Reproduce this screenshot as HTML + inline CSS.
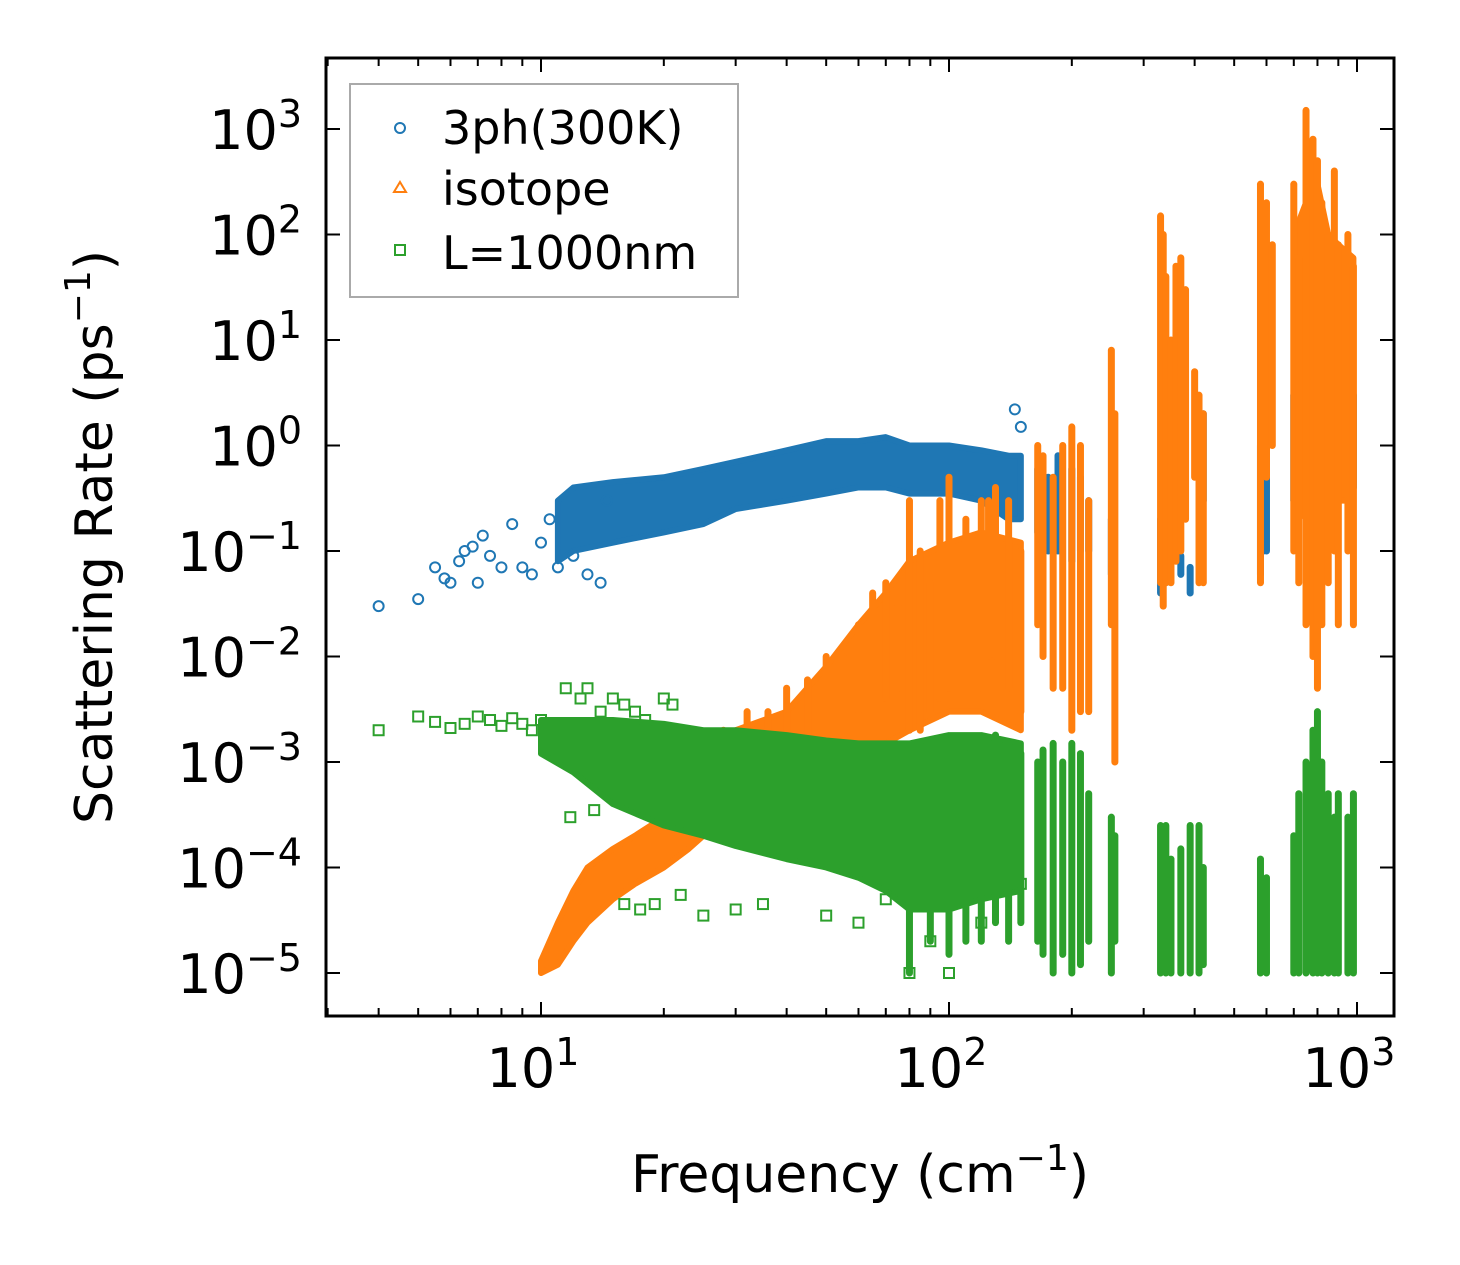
<!DOCTYPE html>
<html><head><meta charset="utf-8"><style>
body{margin:0;background:#fff}
svg{display:block;font-family:"DejaVu Sans","Liberation Sans",sans-serif}
</style></head><body>
<svg id="chart" width="1460" height="1265" viewBox="0 0 1460 1265" xmlns="http://www.w3.org/2000/svg">
<g id="marks"></g>
<g id="axes"></g>
<text x="860" y="1192" font-size="52" text-anchor="middle">Frequency (cm<tspan dy="-22" font-size="36">−1</tspan><tspan dy="22">)</tspan></text>
<text transform="translate(112,537) rotate(-90)" font-size="52" text-anchor="middle">Scattering Rate (ps<tspan dy="-22" font-size="36">−1</tspan><tspan dy="22">)</tspan></text>
<g>
<rect x="350" y="84" width="388" height="213" fill="#fff" stroke="#aaa" stroke-width="2"/>
<g><circle cx="400" cy="128" r="5" fill="none" stroke="#1f77b4" stroke-width="2"/><text x="442" y="144" font-size="46">3ph(300K)</text></g>
<g><path d="M400,182 L406,192 L394,192 Z" fill="none" stroke="#ff7f0e" stroke-width="2"/><text x="442" y="205" font-size="46">isotope</text></g>
<g><rect x="395" y="245" width="10" height="10" fill="none" stroke="#2ca02c" stroke-width="2"/><text x="442" y="269" font-size="46">L=1000nm</text></g>
</g>
</svg>
<script>
// ---- data ----
const blueSparseF=[4,5,5.5,5.8,6,6.3,6.5,6.8,7,7.2,7.5,8,8.5,9,9.5,10,10.5,11,12,13,14,14.5,145,150];
const blueSparseY=[0.03,0.035,0.07,0.055,0.05,0.08,0.1,0.11,0.05,0.14,0.09,0.07,0.18,0.07,0.06,0.12,0.2,0.07,0.09,0.06,0.05,0.3,2.2,1.5];
const blueBandF=[11,12,15,20,25,30,40,50,60,70,80,100,120,140,150];
const blueBandLo=[0.08,0.1,0.12,0.15,0.18,0.25,0.3,0.35,0.4,0.4,0.35,0.35,0.3,0.2,0.2];
const blueBandHi=[0.3,0.4,0.45,0.5,0.6,0.7,0.9,1.1,1.1,1.2,1.0,1.0,0.9,0.8,0.8];
const blueBand2F=[700,800,900,980];
const blueBand2Lo=[0.4,0.4,0.4,0.4];
const blueBand2Hi=[2,3,2,3];
const blueStripeF=[165,175,185,200,210,220,250,330,335,340,370,390,420,580,590,600,700,750,800,850,900,950,980];
const blueStripeLo=[0.15,0.1,0.1,0.08,0.1,0.1,0.06,0.04,0.05,0.05,0.06,0.04,0.3,0.06,0.1,0.1,0.3,0.4,0.3,0.4,0.4,0.4,0.4];
const blueStripeHi=[0.6,0.5,0.8,0.6,0.5,0.3,0.2,0.2,0.25,0.2,0.09,0.07,2,1,1.5,2,3,3,3,3,2,3,3];

const orBandF=[10,11,12,13,15,17,20,23,25];
const orBandLo=[1e-5,1.2e-5,2e-5,3e-5,5e-5,7e-5,1e-4,1.5e-4,2e-4];
const orBandHi=[1.3e-5,3e-5,6e-5,1e-4,1.5e-4,2e-4,3e-4,4e-4,5e-4];
const orBand2F=[25,30,40,50,60,70,80,100,120,150];
const orBand2Lo=[2e-4,3e-4,4e-4,6e-4,1e-3,1.5e-3,2e-3,3e-3,3e-3,2e-3];
const orBand2Hi=[1e-3,2e-3,3e-3,8e-3,0.02,0.04,0.08,0.12,0.15,0.12];
const orBand3F=[700,750,800,850,900,980];
const orBand3Lo=[0.3,0.2,0.1,0.2,0.3,0.3];
const orBand3Hi=[100,200,300,100,80,60];
const orStripeF=[28,32,36,40,45,50,55,60,65,70,75,80,85,90,95,100,110,120,125,130,140,150,165,170,180,190,200,210,220,250,255,330,335,340,350,360,370,380,400,410,420,580,600,620,700,720,750,780,800,820,850,880,900,950,980];
const orStripeLo=[5e-4,6e-4,8e-4,1e-3,1e-3,1.5e-3,2e-3,3e-3,3e-3,4e-3,5e-3,2e-3,2e-3,3e-3,4e-3,5e-3,8e-3,5e-3,1e-2,1e-2,5e-3,3e-3,2e-2,1e-2,5e-3,5e-3,2e-3,3e-3,3e-3,2e-2,1e-3,0.05,0.03,0.05,0.05,0.08,0.1,0.2,0.5,0.05,0.05,0.05,0.5,1,0.1,0.05,0.02,0.01,0.005,0.02,0.05,0.1,0.02,0.1,0.02];
const orStripeHi=[2e-3,3e-3,3e-3,5e-3,6e-3,0.01,0.01,0.02,0.04,0.05,0.03,0.3,0.1,0.05,0.3,0.5,0.2,0.3,0.3,0.4,0.3,0.1,1,0.8,0.5,1,1.5,1,0.3,8,2,150,100,40,10,50,60,30,5,3,2,300,200,80,300,60,1500,800,500,200,100,400,80,100,50];

const grSparseF=[4,5,5.5,6,6.5,7,7.5,8,8.5,9,9.5,10,11.5,12.5,13,14,15,16,17,18,20,21,19,17.5,16,13.5,11.8,22,25,30,35,50,60,70,80,90,100,120,150];
const grSparseY=[2e-3,2.7e-3,2.4e-3,2.1e-3,2.3e-3,2.7e-3,2.5e-3,2.2e-3,2.6e-3,2.3e-3,2e-3,2.5e-3,5e-3,4e-3,5e-3,3e-3,4e-3,3.5e-3,3e-3,2.5e-3,4e-3,3.5e-3,4.5e-5,4e-5,4.5e-5,3.5e-4,3e-4,5.5e-5,3.5e-5,4e-5,4.5e-5,3.5e-5,3e-5,5e-5,1e-5,2e-5,1e-5,3e-5,7e-5];
const grBandF=[10,12,15,20,25,30,40,50,60,70,80,100,120,150];
const grBandLo=[1.2e-3,8e-4,4e-4,2.5e-4,2e-4,1.6e-4,1.2e-4,1e-4,8e-5,6e-5,4e-5,4e-5,5e-5,6e-5];
const grBandHi=[2.5e-3,2.5e-3,2.5e-3,2.3e-3,2e-3,2e-3,1.8e-3,1.6e-3,1.5e-3,1.5e-3,1.5e-3,1.8e-3,1.8e-3,1.5e-3];
const grStripeF=[80,90,100,110,120,130,140,150,165,170,180,190,200,210,220,250,255,330,340,350,370,390,410,420,580,600,700,720,750,780,800,820,850,880,900,950,980];
const grStripeLo=[1e-5,2e-5,1.5e-5,2e-5,2e-5,3e-5,2e-5,3e-5,2e-5,1.5e-5,1e-5,1.5e-5,1e-5,1.2e-5,2e-5,1e-5,2e-5,1e-5,1e-5,1e-5,1e-5,1e-5,1e-5,1.2e-5,1e-5,1e-5,1e-5,1e-5,1e-5,1e-5,1e-5,1e-5,1e-5,1e-5,1e-5,1e-5,1e-5];
const grStripeHi=[1e-3,1.5e-3,1.5e-3,1.2e-3,1.5e-3,1.8e-3,1.5e-3,1.2e-3,1e-3,1.3e-3,1.5e-3,1e-3,1.5e-3,1.2e-3,5e-4,3e-4,2e-4,2.5e-4,2.5e-4,1.2e-4,1.5e-4,2.5e-4,2.5e-4,1e-4,1.2e-4,8e-5,2e-4,5e-4,1e-3,2e-3,3e-3,1e-3,5e-4,3e-4,5e-4,3e-4,5e-4];

const xTickVals=[10,100,1000];
const xTickExp=["1","2","3"];
const yTickExp=[3,2,1,0,-1,-2,-3,-4,-5];

// ---- axes functions ----
const X0=326,X1=1394,Y0=58,Y1=1016;
const xs=v=>541+408*(Math.log10(v)-1);
const ys=v=>973-105.5*(Math.log10(v)+5);
const NS="http://www.w3.org/2000/svg";
const marks=document.getElementById('marks'),axes=document.getElementById('axes');
function mk(t,a,p){const e=document.createElementNS(NS,t);for(const k in a)e.setAttribute(k,a[k]);(p||marks).appendChild(e);return e;}
const C={b:'#1f77b4',o:'#ff7f0e',g:'#2ca02c'};

function band(F,L,H,col,name){
  let d='M'+F.map((f,i)=>xs(f)+','+ys(H[i])).join(' L')+' L'+F.map((f,i)=>xs(f)+','+ys(L[i])).reverse().join(' L')+'Z';
  const e=mk('path',{d:d,fill:col,stroke:col,'stroke-width':6,'stroke-linejoin':'round'});
  
  
}
function stripes(F,L,H,col,name){
  F.forEach((f,i)=>{
    const e=mk('line',{x1:xs(f),x2:xs(f),y1:ys(L[i]),y2:ys(H[i]),stroke:col,'stroke-width':7,'stroke-linecap':'round'});
    
    
  });
}
function circles(F,Y,col,name){F.forEach((f,i)=>{const e=mk('circle',{cx:xs(f),cy:ys(Y[i]),r:5,fill:'none',stroke:col,'stroke-width':2});
  
  });}
function squares(F,Y,col,name){F.forEach((f,i)=>{const e=mk('rect',{x:xs(f)-5,y:ys(Y[i])-5,width:10,height:10,fill:'none',stroke:col,'stroke-width':2});
  
  });}

band(blueBandF,blueBandLo,blueBandHi,C.b,'3ph-band');
band(blueBand2F,blueBand2Lo,blueBand2Hi,C.b,'3ph-band-high');
stripes(blueStripeF,blueStripeLo,blueStripeHi,C.b,'3ph-stripe');
circles(blueSparseF,blueSparseY,C.b,'3ph-point');
band(orBandF,orBandLo,orBandHi,C.o,'isotope-band');
band(orBand2F,orBand2Lo,orBand2Hi,C.o,'isotope-band-mid');
band(orBand3F,orBand3Lo,orBand3Hi,C.o,'isotope-band-high');
stripes(orStripeF,orStripeLo,orStripeHi,C.o,'isotope-stripe');
band(grBandF,grBandLo,grBandHi,C.g,'boundary-band');
stripes(grStripeF,grStripeLo,grStripeHi,C.g,'boundary-stripe');
squares(grSparseF,grSparseY,C.g,'boundary-point');

// frame
const fr=mk('rect',{x:X0,y:Y0,width:X1-X0,height:Y1-Y0,fill:'none',stroke:'#000','stroke-width':3},axes);


// x ticks
for(let d=0;d<=3;d++)for(let m=1;m<10;m++){const v=m*Math.pow(10,d),x=xs(v);if(x<X0||x>X1)continue;const L=m==1?14:8;
  mk('line',{x1:x,x2:x,y1:Y1,y2:Y1-L,stroke:'#000','stroke-width':2},axes);mk('line',{x1:x,x2:x,y1:Y0,y2:Y0+L,stroke:'#000','stroke-width':2},axes);}
xTickVals.forEach((v,i)=>{const t=mk('text',{x:xs(v)-8,y:1087,'font-size':54,'text-anchor':'middle'},axes);t.innerHTML='10<tspan dy="-22" font-size="38">'+xTickExp[i]+'</tspan>';
  
  });
// y ticks
yTickExp.forEach(e=>{const y=ys(Math.pow(10,e));
  mk('line',{x1:X0,x2:X0+14,y1:y,y2:y,stroke:'#000','stroke-width':2},axes);mk('line',{x1:X1,x2:X1-14,y1:y,y2:y,stroke:'#000','stroke-width':2},axes);
  const t=mk('text',{x:302,y:y+20,'font-size':54,'text-anchor':'end'},axes);t.innerHTML='10<tspan dy="-22" font-size="38">'+(e<0?'−'+(-e):e)+'</tspan>';
  
  });
</script>
</body></html>
